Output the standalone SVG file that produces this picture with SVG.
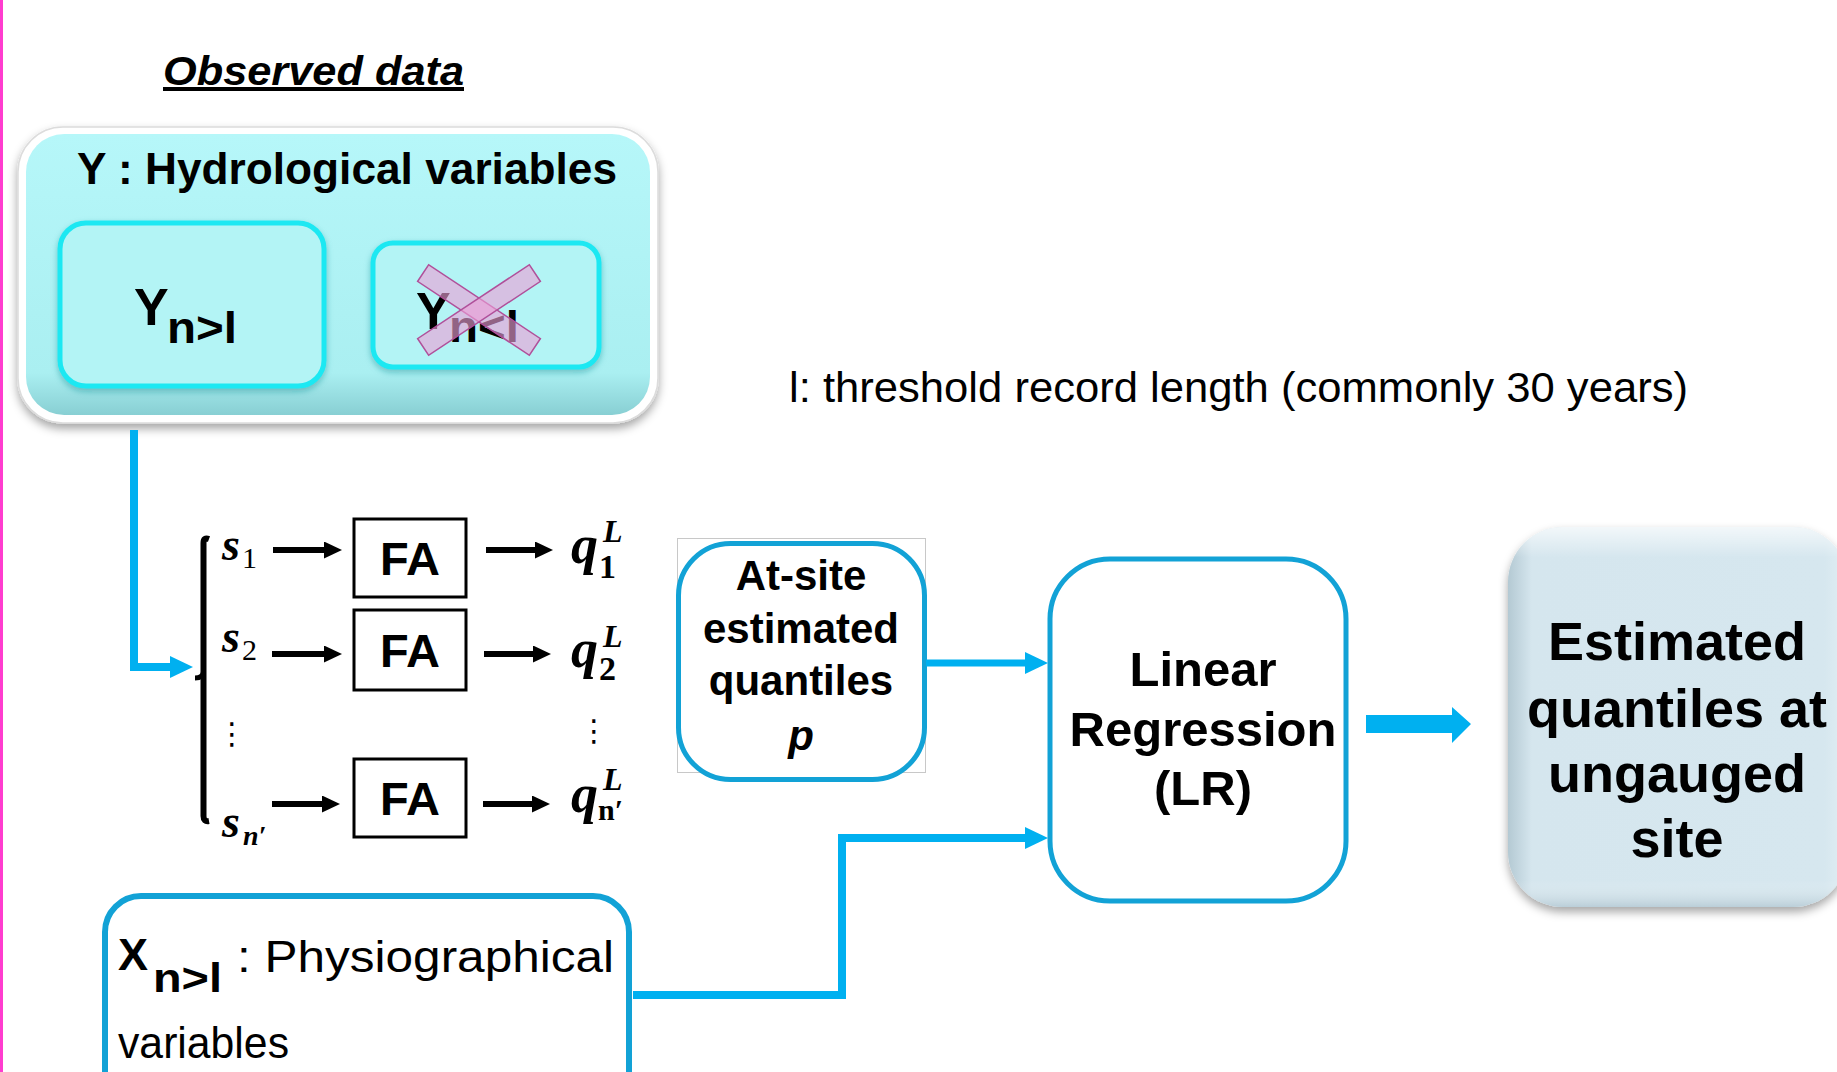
<svg xmlns="http://www.w3.org/2000/svg" width="1837" height="1072" viewBox="0 0 1837 1072">
<defs>
<style>
.sans{font-family:"Liberation Sans",Arial,sans-serif;fill:#000}
.b{font-weight:bold}
.math{font-family:"Liberation Serif","Times New Roman",serif;font-style:italic;font-weight:bold;fill:#000}
.up{font-style:normal}
.conn{fill:none;stroke:#00b0f0;stroke-width:8}
.box{fill:#fff;stroke:#12a2d6;stroke-width:5}
.fa{fill:#fff;stroke:#000;stroke-width:3}
.arr{stroke:#000;stroke-width:6;fill:none}
.inner{fill:#b3f4f5;stroke:#1ee8f2;stroke-width:5}
</style>
<marker id="ah" markerUnits="userSpaceOnUse" markerWidth="18" markerHeight="17" viewBox="0 0 18 17" refX="8" refY="8.5" orient="auto"><path d="M0,0 L18,8.5 L0,17 z" fill="#000"/></marker>
<marker id="bh" markerUnits="userSpaceOnUse" markerWidth="23" markerHeight="22" viewBox="0 0 23 22" refX="11" refY="11" orient="auto"><path d="M0,0 L23,11 L0,22 z" fill="#00b0f0"/></marker>
<linearGradient id="cyanG" x1="0" y1="0" x2="0" y2="1"><stop offset="0" stop-color="#b6f7f9"/><stop offset="0.85" stop-color="#aaeff1"/><stop offset="1" stop-color="#88cfd3"/></linearGradient>
<linearGradient id="estG" x1="0" y1="0" x2="1" y2="0"><stop offset="0" stop-color="#b4c9d3"/><stop offset="0.07" stop-color="#d5e6ee"/><stop offset="0.93" stop-color="#d6e7ef"/><stop offset="1" stop-color="#e2eff4"/></linearGradient>
<linearGradient id="estV" x1="0" y1="0" x2="0" y2="1"><stop offset="0" stop-color="#ffffff" stop-opacity="0.7"/><stop offset="0.08" stop-color="#ffffff" stop-opacity="0"/><stop offset="0.93" stop-color="#ffffff" stop-opacity="0"/><stop offset="1" stop-color="#9fb6c2" stop-opacity="0.5"/></linearGradient>
<filter id="sh" x="-10%" y="-10%" width="120%" height="130%"><feDropShadow dx="0" dy="5" stdDeviation="5" flood-color="#000" flood-opacity="0.35"/></filter>
<filter id="glow" x="-10%" y="-10%" width="120%" height="130%"><feDropShadow dx="0" dy="3" stdDeviation="3" flood-color="#1a8a90" flood-opacity="0.45"/></filter>
</defs>
<rect x="0" y="0" width="1837" height="1072" fill="#fff"/>
<rect x="0" y="0" width="3" height="1072" fill="#ff3ccf"/>

<g id="title">
<text class="sans b" x="163" y="85" font-size="40" font-style="italic" text-decoration="underline" textLength="301" lengthAdjust="spacingAndGlyphs">Observed data</text>
</g>

<g id="Y-box">
<rect x="18" y="127" width="640" height="296" rx="45" fill="#fff" stroke="#dcdcdc" stroke-width="1.5" filter="url(#sh)"/>
<rect x="26" y="134" width="624" height="281" rx="38" fill="url(#cyanG)"/>
<text class="sans b" x="77" y="184" font-size="44" textLength="540" lengthAdjust="spacingAndGlyphs">Y : Hydrological variables</text>
</g>

<g id="Y-long">
<rect class="inner" x="60" y="223" width="264" height="163" rx="26" filter="url(#glow)"/>
<text class="sans b" x="134" y="325" font-size="52">Y<tspan x="167" y="343" font-size="44" textLength="70" lengthAdjust="spacingAndGlyphs">n&gt;l</tspan></text>
</g>

<g id="Y-short">
<rect class="inner" x="373" y="243" width="226" height="124" rx="20" filter="url(#glow)"/>
<text class="sans b" x="416" y="329" font-size="52">Y<tspan x="449" y="342" font-size="44" textLength="70" lengthAdjust="spacingAndGlyphs">n&lt;l</tspan></text>
<g transform="translate(479,310)">
<rect x="-67" y="-10" width="134" height="20" transform="rotate(33.5)" fill="#eba0d7" fill-opacity="0.62" stroke="#b0509a" stroke-width="1.5"/>
<rect x="-67" y="-10" width="134" height="20" transform="rotate(-33.5)" fill="#eba0d7" fill-opacity="0.62" stroke="#b0509a" stroke-width="1.5"/>
</g>
</g>

<g id="threshold-note">
<text class="sans" x="789" y="402" font-size="42" textLength="899" lengthAdjust="spacingAndGlyphs">l: threshold record length (commonly 30 years)</text>
</g>

<g id="stations">
<path d="M209,539 Q203.5,537 203.5,543 V816 Q203.5,822 209,821" fill="none" stroke="#000" stroke-width="6"/>
<path d="M203.5,672 Q203,678 195,678" fill="none" stroke="#000" stroke-width="5"/>
<text class="math" x="222" y="560" font-size="46">s<tspan class="up" x="242" y="568" font-size="30" font-weight="normal">1</tspan></text>
<text class="math" x="222" y="652" font-size="46">s<tspan class="up" x="242" y="660" font-size="30" font-weight="normal">2</tspan></text>
<text x="232" y="744" font-family="DejaVu Sans,sans-serif" font-size="30" text-anchor="middle" fill="#000">⋮</text>
<text class="math" x="222" y="837" font-size="46">s<tspan x="243" y="845" font-size="28">n′</tspan></text>
</g>

<g id="FA1"><rect class="fa" x="354" y="519" width="112" height="78"/><text class="sans b" x="410" y="575" font-size="47" text-anchor="middle">FA</text></g>
<g id="FA2"><rect class="fa" x="354" y="610" width="112" height="80"/><text class="sans b" x="410" y="667" font-size="47" text-anchor="middle">FA</text></g>
<g id="FA3"><rect class="fa" x="354" y="759" width="112" height="78"/><text class="sans b" x="410" y="815" font-size="47" text-anchor="middle">FA</text></g>

<g id="quantiles">
<text class="math" x="571" y="563" font-size="54">q<tspan x="603" y="542" font-size="32">L</tspan><tspan class="up" x="599" y="578" font-size="34">1</tspan></text>
<text class="math" x="571" y="667" font-size="54">q<tspan x="603" y="647" font-size="32">L</tspan><tspan class="up" x="599" y="680" font-size="34">2</tspan></text>
<text x="594" y="741" font-family="DejaVu Sans,sans-serif" font-size="30" text-anchor="middle" fill="#000">⋮</text>
<text class="math" x="571" y="812" font-size="54">q<tspan x="603" y="790" font-size="32">L</tspan><tspan class="up" x="598" y="820" font-size="30">n′</tspan></text>
</g>

<g id="at-site">
<rect x="677.5" y="538.5" width="248" height="234" fill="none" stroke="#c8c8c8" stroke-width="1"/>
<rect class="box" x="678.5" y="543.5" width="246" height="236" rx="52"/>
<text class="sans b" font-size="42" text-anchor="middle"><tspan x="801" y="590">At-site</tspan><tspan x="801" y="643">estimated</tspan><tspan x="801" y="695">quantiles</tspan><tspan x="801" y="750" font-style="italic">p</tspan></text>
</g>

<g id="LR">
<rect class="box" x="1050" y="559" width="296" height="342" rx="60"/>
<text class="sans b" font-size="49" text-anchor="middle"><tspan x="1203" y="686">Linear</tspan><tspan x="1203" y="746">Regression</tspan><tspan x="1203" y="805">(LR)</tspan></text>
</g>

<g id="estimated">
<rect x="1508" y="527" width="340" height="380" rx="55" fill="url(#estG)" filter="url(#sh)"/>
<rect x="1508" y="527" width="340" height="380" rx="55" fill="url(#estV)"/>
<text class="sans b" font-size="54" text-anchor="middle"><tspan x="1677" y="660">Estimated</tspan><tspan x="1677" y="727">quantiles at</tspan><tspan x="1677" y="792">ungauged</tspan><tspan x="1677" y="857">site</tspan></text>
</g>

<g id="X-box">
<rect x="105" y="896" width="524" height="220" rx="36" fill="#fff" stroke="#12a2d6" stroke-width="6"/>
<text class="sans b" x="118" y="970" font-size="45">X<tspan x="153" y="992" font-size="40" textLength="69" lengthAdjust="spacingAndGlyphs">n&gt;l</tspan></text>
<text class="sans" x="237" y="972" font-size="44" textLength="377" lengthAdjust="spacingAndGlyphs">: Physiographical</text>
<text class="sans" x="118" y="1058" font-size="44" textLength="171" lengthAdjust="spacingAndGlyphs">variables</text>
</g>

<g id="connectors">
<path class="conn" d="M134,430 V667 H181" marker-end="url(#bh)"/>
<line class="arr" x1="273" y1="550" x2="332" y2="550" marker-end="url(#ah)"/>
<line class="arr" x1="272" y1="654" x2="332" y2="654" marker-end="url(#ah)"/>
<line class="arr" x1="272" y1="804" x2="330" y2="804" marker-end="url(#ah)"/>
<line class="arr" x1="486" y1="550" x2="543" y2="550" marker-end="url(#ah)"/>
<line class="arr" x1="484" y1="654" x2="541" y2="654" marker-end="url(#ah)"/>
<line class="arr" x1="483" y1="804" x2="540" y2="804" marker-end="url(#ah)"/>
<path class="conn" style="stroke-width:7" d="M926,663 H1036" marker-end="url(#bh)"/>
<path class="conn" d="M633,995 H842 V838 H1036" marker-end="url(#bh)"/>
<path d="M1366,715 H1452 V707 L1471,724 L1452,743 V733 H1366 z" fill="#00b0f0"/>
</g>
</svg>
